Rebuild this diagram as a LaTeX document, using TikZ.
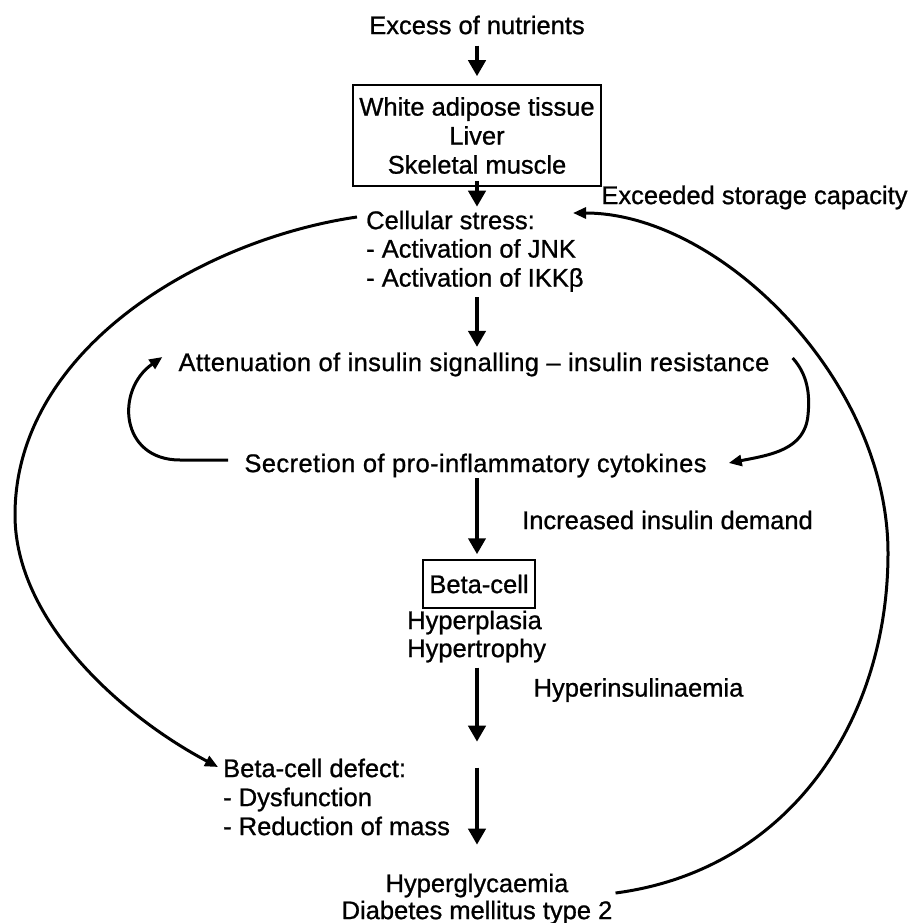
\documentclass[tikz,border=0pt]{standalone}
\usepackage{fontspec}
\setmainfont{Liberation Sans}
\newfontfamily\figfont{Liberation Sans}[FakeBold=0.9]
\usetikzlibrary{arrows.meta}
\begin{document}
\begin{tikzpicture}[x=1pt,y=-1pt,
  every node/.style={inner sep=0pt, font=\figfont\fontsize{25.5}{29}\selectfont},
  spaced/.style={font=\figfont\fontsize{25.5}{29}\selectfont\addfontfeatures{LetterSpace=#1}},
  boxed/.style={draw, line width=1.5pt},
  varrow/.style={line width=4.3pt, -{Triangle[length=16pt,width=17pt]}},
  carrow/.style={line width=3pt, -{Triangle[length=13pt,width=11pt]}}]
\useasboundingbox (0,0) rectangle (910,923);

% nodes
\node (excess) at (477,25) {Excess of nutrients};
\node[boxed, minimum width=248pt, minimum height=101pt, align=center] (organs) at (477,135.5) {White adipose tissue\\Liver\\Skeletal muscle};
\node[anchor=west] (stress) at (366,220) {Cellular stress:};
\node[anchor=west, align=left] (stresslist) at (366,265.5) {- Activation of JNK\\- Activation of IKKβ};
\node (exceed) at (754.5,197.5) {Exceeded storage capacity};
\node[spaced=1.4] (atten) at (474,364.5) {Attenuation of insulin signalling – insulin resistance};
\node[spaced=1.6] (secretion) at (475.5,465.5) {Secretion of pro-inflammatory cytokines};
\node (increased) at (667.5,520) {Increased insulin demand};
\node[boxed, minimum width=112pt, minimum height=48pt] (betacell) at (479,584) {Beta-cell};
\node[anchor=west, align=left] (hyper) at (407,636.5) {Hyperplasia\\[-1pt]Hypertrophy};
\node (hyperins) at (638.5,690) {Hyperinsulinaemia};
\node[anchor=west] (defect) at (223,768) {Beta-cell defect:};
\node[anchor=west, align=left] (defectlist) at (223,811.5) {- Dysfunction\\- Reduction of mass};
\node[align=center] (hyperglyc) at (477,899) {Hyperglycaemia\\[-2pt]Diabetes mellitus type 2};

% vertical arrows
\draw[varrow, shorten <=11pt, shorten >=8pt] (excess.south) -- (organs.north);
\draw[varrow, shorten <=-6pt, shorten >=3.7pt] (organs.south) -- (organs.south |- stress.north);
\draw[varrow, shorten <=5.3pt, shorten >=5.5pt] (organs.south |- stresslist.south) -- (organs.south |- atten.north);
\draw[varrow, shorten <=0.5pt, shorten >=5pt] (organs.south |- secretion.south) -- (organs.south |- betacell.north);
\draw[varrow, shorten <=5pt, shorten >=16.7pt] (organs.south |- hyper.south) -- (organs.south |- defect.north);
\draw[varrow, shorten <=9.3pt, shorten >=28.7pt] (organs.south |- defect.north) -- (hyperglyc.north);

% big loops
\draw[carrow] ([xshift=-9pt,yshift=3pt]stress.west) .. controls (200,240) and (15,350) .. (15,515)
  .. controls (15,620) and (120,715) .. ([xshift=-5pt,yshift=1pt]defect.west);
\draw[carrow] ([xshift=3pt,yshift=6pt]hyperglyc.east) .. controls (790,870) and (888,720) .. (888,553)
  .. controls (888,380) and (720,213) .. ([xshift=38pt,yshift=7pt]stress.east);

% small loops
\draw[carrow] ([xshift=-16pt,yshift=5.5pt]secretion.west) -- (180,460)
  .. controls (120,460) and (115,390) .. ([xshift=-16pt,yshift=7.5pt]atten.west);
\draw[carrow] ([xshift=23pt,yshift=6.5pt]atten.east) .. controls (808,375) and (810,395) .. (808,415)
  .. controls (805,450) and (770,455) .. ([xshift=22pt,yshift=2.5pt]secretion.east);
\end{tikzpicture}
\end{document}
